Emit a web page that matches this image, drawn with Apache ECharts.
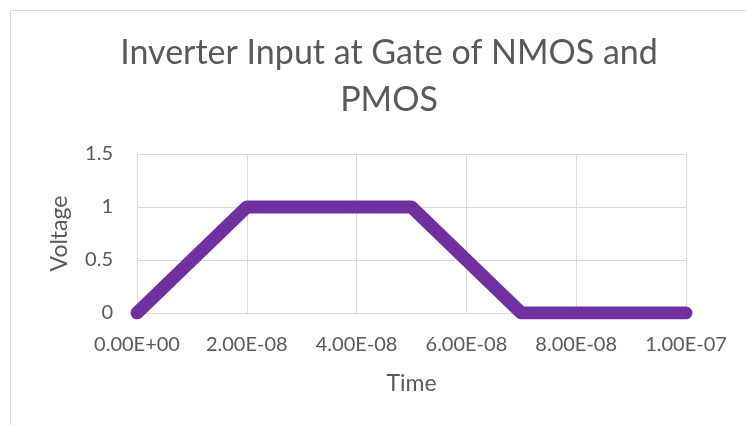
<!DOCTYPE html>
<html>
<head>
<meta charset="utf-8">
<script src="https://cdn.jsdelivr.net/npm/echarts@6/dist/echarts.min.js"></script>
<style>
  html, body { margin: 0; padding: 0; background: #fff; }
  #chart { width: 746px; height: 425px; }
</style>
</head>
<body>
<div id="chart"></div>
<script>
// Gate input waveform: time (s) and voltage (V)
const timeValues = [0, 2e-8, 5e-8, 7e-8, 1e-7];
const voltageValues = [0, 1, 1, 0, 0];

const titleLines = ['Inverter Input at Gate of NMOS and', 'PMOS'];
const xAxisTitle = 'Time';
const yAxisTitle = 'Voltage';

const FONT = 'Lato';
const TEXT_COLOR = '#595959';
const GRID_COLOR = '#d9d9d9';

// Excel-style scientific notation, e.g. 2.00E-08
function sci(v) {
  const s = Number(v).toExponential(2);
  const [mant, exp] = s.split('e');
  const sign = exp[0] === '-' ? '-' : '+';
  const digits = exp.replace(/[+-]/, '').padStart(2, '0');
  return mant + 'E' + sign + digits;
}

const chart = echarts.init(document.getElementById('chart'), null, { renderer: 'canvas' });

chart.setOption({
  animation: false,
  backgroundColor: '#ffffff',
  title: {
    text: titleLines.join('\n'),
    left: 384,
    top: 25,
    textAlign: 'center',
    textStyle: {
      fontFamily: FONT,
      fontSize: 34,
      fontWeight: 'normal',
      color: TEXT_COLOR,
      lineHeight: 47
    }
  },
  graphic: [{
    type: 'rect',
    shape: { x: 10.5, y: 10.5, width: 760, height: 440 },
    style: { fill: null, stroke: GRID_COLOR, lineWidth: 1 },
    silent: true,
    z: -1
  }],
  grid: { left: 137, right: 60, top: 154, bottom: 112 },
  xAxis: {
    type: 'value',
    min: 0,
    max: 1e-7,
    interval: 2e-8,
    name: xAxisTitle,
    nameLocation: 'middle',
    nameGap: 59,
    nameTextStyle: { fontFamily: FONT, fontSize: 23, color: TEXT_COLOR },
    axisLine: { show: false },
    axisTick: { show: false },
    axisLabel: {
      formatter: sci,
      margin: 22,
      fontFamily: FONT,
      fontSize: 20,
      color: TEXT_COLOR
    },
    splitLine: { show: true, lineStyle: { color: GRID_COLOR, width: 1 } }
  },
  yAxis: {
    type: 'value',
    min: 0,
    max: 1.5,
    interval: 0.5,
    name: yAxisTitle,
    nameLocation: 'middle',
    nameGap: 66,
    nameTextStyle: { fontFamily: FONT, fontSize: 23, color: TEXT_COLOR },
    axisLine: { show: false },
    axisTick: { show: false },
    axisLabel: {
      margin: 24,
      fontFamily: FONT,
      fontSize: 20,
      color: TEXT_COLOR
    },
    splitLine: { show: true, lineStyle: { color: GRID_COLOR, width: 1 } }
  },
  series: [{
    type: 'line',
    data: timeValues.map((t, i) => [t, voltageValues[i]]),
    showSymbol: false,
    symbol: 'none',
    lineStyle: { color: '#7030a0', width: 13, cap: 'round', join: 'round' },
    itemStyle: { color: '#7030a0' }
  }]
});
</script>
</body>
</html>
